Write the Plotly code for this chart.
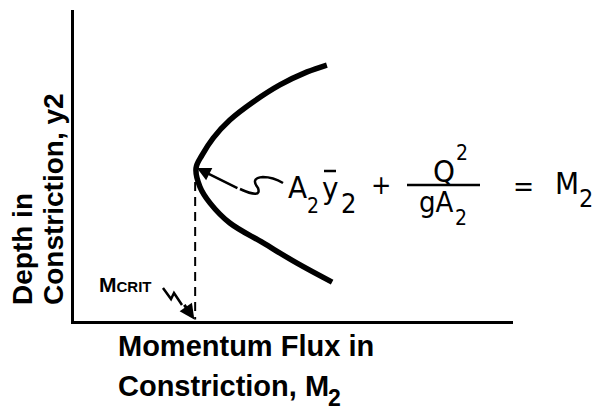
import plotly.graph_objects as go

# Specific-force (momentum) curve in the constriction, read as (M, depth) pairs
momentum_flux = [5.76, 5.31, 4.69, 4.08, 3.55, 3.17, 2.92, 2.78, 2.87, 3.10, 3.55, 4.31, 5.08, 5.88]
depth = [8.23, 8.01, 7.59, 7.04, 6.46, 5.88, 5.34, 4.92, 4.31, 3.79, 3.15, 2.51, 1.86, 1.25]

# Critical point (minimum momentum flux)
m_crit = 2.76
y_crit = 4.92

x_title = ["Momentum Flux in", "Constriction, M"]
y_title = ["Depth in", "Constriction, y2"]

# Plot-area geometry in pixels (used to place free text)
X0, X1 = 74, 513
YT, YB = 10, 321
W, H = 599, 415


def px(x):
    return (x - X0) / (X1 - X0)


def py(y):
    return (YB - y) / (YB - YT)


BOLD = "Liberation Sans, Arial, sans-serif"
THIN = "DejaVu Sans Condensed, Liberation Sans Narrow, Arial Narrow, sans-serif"

fig = go.Figure()

# Dashed drop line from the critical point to the M axis
fig.add_trace(go.Scatter(
    x=[m_crit, m_crit], y=[y_crit - 0.45, 0.05], mode="lines",
    line=dict(color="black", width=2, dash="9px,6px"), hoverinfo="skip"))

# The M-y curve
fig.add_trace(go.Scatter(
    x=momentum_flux, y=depth, mode="lines",
    line=dict(color="black", width=5.5, shape="spline", smoothing=1.0),
    hoverinfo="skip"))

annotations = []


def txt(s, x, y, size, family=THIN, weight="normal", xanchor="center", yanchor="middle", angle=0):
    annotations.append(dict(
        text=s, x=px(x), y=py(y), xref="paper", yref="paper", showarrow=False,
        xanchor=xanchor, yanchor=yanchor, textangle=angle,
        font=dict(family=family, size=size, color="black", weight=weight)))


# Axis titles
txt(x_title[0], 116, 346, 29, BOLD, "bold", xanchor="left")
txt(x_title[1], 116, 386, 29, BOLD, "bold", xanchor="left")
txt("2", 334, 398, 23, BOLD, "bold")
txt(y_title[0], 22, 307, 28, BOLD, "bold", yanchor="bottom", angle=-90)
txt(y_title[1], 53, 307, 28, BOLD, "bold", yanchor="bottom", angle=-90)

# Momentum equation: A2 ybar2 + Q^2/(g A2) = M2
txt("A", 297, 187, 31)
txt("2", 313, 206, 21)
txt("y", 330, 188, 31)
txt("2", 348, 203, 27)
txt("+", 381, 184, 27)
txt("Q", 444, 171, 31)
txt("2", 462, 153, 21)
txt("gA", 436, 202, 29)
txt("2", 461, 218, 21)
txt("=", 523, 186, 28)
txt("M", 567, 183, 31)
txt("2", 586, 199, 25)

# M_CRIT label
annotations.append(dict(
    text="M<span style='font-size:15px'>CRIT</span>", x=px(97), y=py(284),
    xref="paper", yref="paper", showarrow=False, xanchor="left", yanchor="middle",
    font=dict(family=BOLD, size=21, color="black", weight="bold")))

# Arrowheads
annotations.append(dict(
    x=m_crit + 0.04, y=y_crit, xref="x", yref="y", text="", showarrow=True,
    ax=42, ay=21, arrowhead=2, arrowsize=1.1, arrowwidth=2.5, arrowcolor="black"))
annotations.append(dict(
    x=m_crit - 0.02, y=0.05, xref="x", yref="y", text="", showarrow=True,
    ax=-11, ay=-16, arrowhead=2, arrowsize=1.0, arrowwidth=3, arrowcolor="black"))

shapes = []
# Fraction bar and the bar over y
shapes.append(dict(type="line", xref="paper", yref="paper",
                   x0=px(407), x1=px(480), y0=py(185), y1=py(185),
                   line=dict(color="black", width=2.5)))
shapes.append(dict(type="line", xref="paper", yref="paper",
                   x0=px(324), x1=px(336), y0=py(171), y1=py(171),
                   line=dict(color="black", width=2.5)))


def p(x, y):
    return f"{px(x):.4f},{py(y):.4f}"


# Squiggle tail of the arrow pointing at the critical point
shapes.append(dict(
    type="path", xref="paper", yref="paper",
    path=f"M {p(240,189)} Q {p(262,199)} {p(258,188)} Q {p(250,178)} {p(263,177)} Q {p(273,177)} {p(283,183)}",
    line=dict(color="black", width=2.5)))
# Zig-zag tail of the M_CRIT arrow
shapes.append(dict(
    type="path", xref="paper", yref="paper",
    path=f"M {p(163,288)} L {p(171,299)} L {p(174,293)} L {p(182,305)}",
    line=dict(color="black", width=2.5)))

fig.update_layout(
    width=W, height=H,
    margin=dict(l=X0, r=W - X1, t=YT, b=H - YB),
    paper_bgcolor="white", plot_bgcolor="white",
    showlegend=False,
    xaxis=dict(range=[0, 10], showline=True, linewidth=3, linecolor="black",
               showgrid=False, zeroline=False, showticklabels=False, ticks=""),
    yaxis=dict(range=[0, 10], showline=True, linewidth=3, linecolor="black",
               showgrid=False, zeroline=False, showticklabels=False, ticks=""),
    annotations=annotations, shapes=shapes,
)

fig.write_html("out.html")
